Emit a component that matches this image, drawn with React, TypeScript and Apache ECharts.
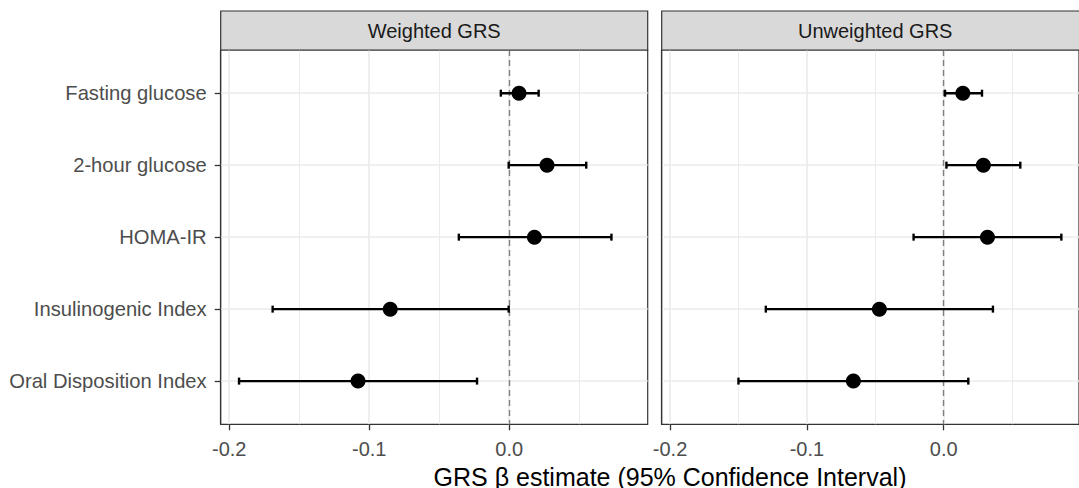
import React, { useEffect, useRef } from "react";
import * as echarts from "echarts";

const categories = [
  "Fasting glucose",
  "2-hour glucose",
  "HOMA-IR",
  "Insulinogenic Index",
  "Oral Disposition Index",
];
const panels = ["Weighted GRS", "Unweighted GRS"];

const weightedEst = [0.007, 0.027, 0.018, -0.085, -0.108];
const weightedLo = [-0.006, -0.0004, -0.036, -0.169, -0.193];
const weightedHi = [0.021, 0.055, 0.073, -0.0004, -0.023];

const unweightedEst = [0.014, 0.029, 0.032, -0.047, -0.066];
const unweightedLo = [0.001, 0.002, -0.022, -0.130, -0.150];
const unweightedHi = [0.028, 0.056, 0.086, 0.036, 0.018];

const xTicks = [-0.2, -0.1, 0.0];
const xMinorTicks = [-0.15, -0.05, 0.05];
const yTicks = [0, 1, 2, 3, 4];
const xTitle = "GRS \u03B2 estimate (95% Confidence Interval)";

const FONT = "'Liberation Sans', Arial, Helvetica, sans-serif";

export default function App() {
  const ref = useRef<HTMLDivElement>(null);

  useEffect(() => {
    document.body.style.margin = "0";
    document.body.style.overflow = "hidden";
    if (!ref.current) return;
    const chart = echarts.init(ref.current, undefined, { renderer: "svg" });

    const panelLeft = [220.7, 661.7];
    const panelTop = 50;
    const panelW = 427;
    const panelH = 374.3;
    const xMin = -0.2061;
    const xMax = 0.0989;

    const est = [weightedEst, unweightedEst];
    const lo = [weightedLo, unweightedLo];
    const hi = [weightedHi, unweightedHi];

    const grids = panelLeft.map((l) => ({
      left: l,
      top: panelTop,
      width: panelW,
      height: panelH,
      show: true,
      backgroundColor: "#ffffff",
      borderColor: "#333333",
      borderWidth: 1.2,
    }));

    const xAxes = panelLeft.map((_, i) => ({
      type: "value",
      gridIndex: i,
      min: xMin,
      max: xMax,
      position: "bottom",
      axisLine: { show: false, onZero: false },
      axisTick: {
        show: true,
        customValues: xTicks,
        length: 6,
        lineStyle: { color: "#333333", width: 1.3 },
      },
      axisLabel: {
        customValues: xTicks,
        formatter: (v: number) => (Math.abs(v) < 1e-9 ? 0 : v).toFixed(1),
        fontSize: 20,
        fontFamily: FONT,
        color: "#4d4d4d",
        margin: 15,
      },
      splitLine: { show: true, lineStyle: { color: "#ebebeb", width: 1.7 } },
    }));

    const yAxes = panelLeft.map((_, i) => ({
      type: "value",
      gridIndex: i,
      inverse: true,
      min: -0.6,
      max: 4.6,
      position: "left",
      axisLine: {
        show: true,
        onZero: false,
        lineStyle: { color: "#333333", width: 1.2 },
      },
      axisTick: {
        show: i === 0,
        customValues: yTicks,
        length: 6,
        lineStyle: { color: "#333333", width: 1.3 },
      },
      axisLabel: {
        show: i === 0,
        customValues: yTicks,
        formatter: (v: number) => categories[Math.round(v)] ?? "",
        fontSize: 20.2,
        fontFamily: FONT,
        color: "#4d4d4d",
        margin: 14,
      },
      splitLine: { show: true, lineStyle: { color: "#ebebeb", width: 1.7 } },
    }));

    const series: any[] = [];
    panelLeft.forEach((_, i) => {
      series.push({
        type: "custom",
        xAxisIndex: i,
        yAxisIndex: i,
        z: 2,
        encode: { x: [1, 2], y: 0 },
        data: categories.map((_, k) => [k, lo[i][k], hi[i][k]]),
        renderItem: (params: any, api: any) => {
          const y = api.value(0);
          const a = api.coord([api.value(1), y]);
          const b = api.coord([api.value(2), y]);
          const h = 3.5;
          const st = { stroke: "#000000", lineWidth: 2.4 };
          return {
            type: "group",
            children: [
              { type: "line", shape: { x1: a[0], y1: a[1], x2: b[0], y2: b[1] }, style: st },
              { type: "line", shape: { x1: a[0], y1: a[1] - h, x2: a[0], y2: a[1] + h }, style: st },
              { type: "line", shape: { x1: b[0], y1: b[1] - h, x2: b[0], y2: b[1] + h }, style: st },
            ],
          };
        },
        markLine: {
          silent: true,
          z: 1,
          symbol: ["none", "none"],
          label: { show: false },
          emphasis: { disabled: true },
          data: [
            ...xMinorTicks.map((v) => ({
              xAxis: v,
              lineStyle: { color: "#ebebeb", width: 1, type: "solid" },
            })),
            {
              xAxis: 0,
              lineStyle: { color: "#808080", width: 1.4, type: [6, 4] },
            },
          ],
        },
      });
      series.push({
        type: "scatter",
        xAxisIndex: i,
        yAxisIndex: i,
        z: 3,
        symbol: "circle",
        symbolSize: 15,
        itemStyle: { color: "#000000", opacity: 1 },
        emphasis: { disabled: true },
        data: categories.map((_, k) => [est[i][k], k]),
      });
    });

    const graphics: any[] = [];
    panelLeft.forEach((l, i) => {
      graphics.push({
        type: "rect",
        shape: { x: l, y: 11, width: panelW, height: 39 },
        style: { fill: "#d9d9d9", stroke: "#333333", lineWidth: 1.2 },
        z: 10,
      });
      graphics.push({
        type: "text",
        x: l + panelW / 2,
        y: 31,
        style: {
          text: panels[i],
          fontSize: 20,
          fontFamily: FONT,
          fill: "#1a1a1a",
          textAlign: "center",
          textVerticalAlign: "middle",
        },
        z: 11,
      });
    });
    graphics.push({
      type: "text",
      x: 670,
      y: 477,
      style: {
        text: xTitle,
        fontSize: 25,
        fontFamily: FONT,
        fill: "#000000",
        textAlign: "center",
        textVerticalAlign: "middle",
      },
    });

    chart.setOption({
      animation: false,
      backgroundColor: "#ffffff",
      grid: grids,
      xAxis: xAxes,
      yAxis: yAxes,
      series,
      graphic: graphics,
    });

    return () => chart.dispose();
  }, []);

  return <div ref={ref} style={{ width: 1079, height: 488 }} />;
}
